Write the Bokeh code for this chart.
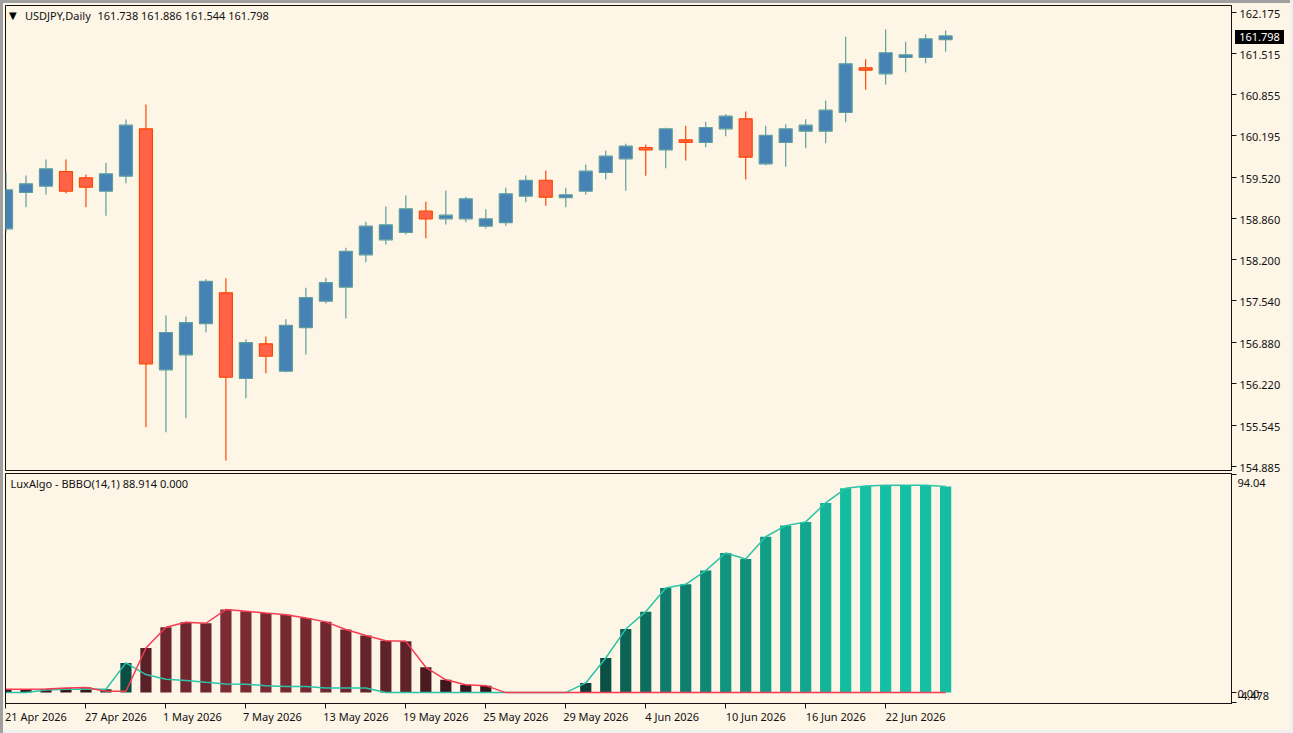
from bokeh.embed import file_html
from bokeh.layouts import column
from bokeh.models import ColumnDataSource, Div, FixedTicker, Label, LinearAxis, Range1d
from bokeh.plotting import figure
from bokeh.resources import INLINE

symbol_name = "USDJPY,Daily"
symbol_ohlc = "161.738 161.886 161.544 161.798"
indicator_text = "LuxAlgo - BBBO(14,1) 88.914 0.000"
last_price = 161.798

date_labels = ["21 Apr 2026", "27 Apr 2026", "1 May 2026", "7 May 2026", "13 May 2026", "19 May 2026",
               "25 May 2026", "29 May 2026", "4 Jun 2026", "10 Jun 2026", "16 Jun 2026", "22 Jun 2026"]
price_ticks = [162.175, 161.515, 160.855, 160.195, 159.520, 158.860, 158.200, 157.540, 156.880, 156.220, 155.545, 154.885]
indicator_ticks = [94.04, 0.0, -4.478]
indicator_tick_labels = ["94.04", "0.00", "-4.478"]

opens = [158.699, 159.283, 159.384, 159.620, 159.519, 159.303, 159.545, 160.306, 156.433, 156.674, 157.177, 157.671,
         156.294, 156.851, 156.411, 157.113, 157.536, 157.761, 158.281, 158.522, 158.640, 158.982, 158.860, 158.860,
         158.741, 158.800, 159.223, 159.480, 159.202, 159.303, 159.604, 159.824, 160.006, 159.969, 160.129, 160.086,
         160.306, 160.467, 159.744, 160.086, 160.268, 160.268, 160.568, 161.287, 161.190, 161.452, 161.452, 161.738]
highs = [159.620, 159.556, 159.813, 159.813, 159.572, 159.760, 160.456, 160.697, 157.306, 157.290, 157.889, 157.905,
         156.925, 156.968, 157.247, 157.751, 157.912, 158.394, 158.812, 159.058, 159.234, 159.133, 159.315, 159.213,
         159.014, 159.358, 159.556, 159.636, 159.358, 159.733, 159.957, 160.065, 160.054, 160.322, 160.354, 160.419,
         160.541, 160.584, 160.354, 160.380, 160.461, 160.761, 161.785, 161.425, 161.902, 161.704, 161.826, 161.886]
lows = [158.635, 159.046, 159.250, 159.271, 159.046, 158.908, 159.432, 155.511, 155.431, 155.656, 157.038, 154.976,
        155.977, 156.379, 156.395, 156.679, 157.499, 157.258, 158.163, 158.447, 158.608, 158.548, 158.768, 158.805,
        158.704, 158.747, 159.127, 159.069, 159.046, 159.250, 159.491, 159.310, 159.551, 159.673, 159.797, 160.011,
        160.187, 159.491, 159.721, 159.696, 159.994, 160.075, 160.412, 160.933, 161.018, 161.216, 161.360, 161.544]
closes = [159.326, 159.422, 159.663, 159.303, 159.368, 159.583, 160.364, 156.530, 157.033, 157.193, 157.857, 156.314,
          156.872, 156.652, 157.150, 157.595, 157.836, 158.339, 158.741, 158.763, 159.021, 158.860, 158.918, 159.181,
          158.860, 159.262, 159.480, 159.207, 159.246, 159.625, 159.866, 160.027, 159.969, 160.306, 160.086, 160.327,
          160.509, 159.850, 160.203, 160.306, 160.364, 160.605, 161.351, 161.248, 161.528, 161.495, 161.753, 161.798]
bull = [0.0, 0.0, 1.15, 1.44, 1.58, 1.44, 12.8, 7.76, 5.75, 5.17, 4.45, 3.74, 3.6, 3.0, 2.6, 2.6, 2.0, 2.0, 2.0, 0.0,
        0.0, 0.0, 0.0, 0.0, 0.0, 0.0, 0.0, 0.0, 0.0, 4.17, 14.9, 27.4, 34.9, 45.1, 46.7, 52.6, 60.2, 57.6, 67.2, 72.0,
        73.6, 81.8, 88.1, 89.1, 89.4, 89.4, 89.4, 88.914]
bear = [1.44, 1.44, 1.58, 2.0, 2.16, 0.57, 0.57, 19.25, 28.16, 30.3, 29.9, 35.8, 35.06, 34.3, 33.6, 32.2, 30.5, 27.2,
        24.6, 22.4, 22.1, 10.9, 5.5, 3.4, 3.0, 0.0, 0.0, 0.0, 0.0, 0.0, 0.0, 0.0, 0.0, 0.0, 0.0, 0.0, 0.0, 0.0, 0.0,
        0.0, 0.0, 0.0, 0.0, 0.0, 0.0, 0.0, 0.0, 0.0]

BG = "#FDF5E6"
INK = "#111111"
FONT = "Noto Sans"
PX = 20.0                                   # pixels per bar
idx = list(range(len(closes)))
date_ticks = idx[::4][:len(date_labels)]

x_range = Range1d(-0.5 / PX, 61.3)


def mix(a, b, t):
    t = max(0.0, min(1.0, t))
    return "#%02x%02x%02x" % tuple(round(p + (q - p) * t) for p, q in zip(a, b))


def note(fig, x, y, text, dx=0, dy=0):
    fig.add_layout(Label(x=x, y=y, text=text, x_offset=dx, y_offset=dy, text_font=FONT, text_font_size="11px",
                         text_baseline="middle", text_align="left", text_color=INK))


def tick_axis(ax, ticks):
    """Axis that draws only the tick marks."""
    ax.ticker = FixedTicker(ticks=ticks)
    ax.major_label_overrides = {t: "" for t in ticks}
    ax.major_tick_in = 0
    ax.major_tick_out = 5
    ax.minor_tick_out = 0
    ax.minor_tick_in = 0
    ax.axis_line_color = INK
    ax.major_tick_line_color = INK
    ax.major_label_standoff = 0


def label_axis(positions, texts, standoff):
    """Axis that draws only the tick labels, at label positions of their own."""
    return LinearAxis(ticker=FixedTicker(ticks=positions), major_label_overrides=dict(zip(positions, texts)),
                      major_tick_in=0, major_tick_out=0, minor_tick_in=0, minor_tick_out=0, axis_line_color=None,
                      major_tick_line_color=None, minor_tick_line_color=None, major_label_standoff=standoff,
                      major_label_text_font=FONT, major_label_text_font_size="11px", major_label_text_color=INK)


def base(height, y_range, top, bottom, **kw):
    fig = figure(width=1293, height=height, x_range=x_range, y_range=y_range, output_backend="svg",
                 toolbar_location=None, y_axis_location="right", background_fill_color=BG, border_fill_color=None,
                 min_border_left=5, min_border_right=62, min_border_top=top, min_border_bottom=bottom, **kw)
    fig.grid.visible = False
    fig.outline_line_color = INK
    fig.outline_line_width = 1
    return fig


# ---------- price panel
price = base(478, Range1d(154.816, 162.2875), 5, 8, x_axis_location=None)
tick_axis(price.yaxis[0], price_ticks)
shift = 1.5 / 62.23
price.add_layout(label_axis([t - shift for t in price_ticks], [f"{t:.3f}" for t in price_ticks], 3), "right")

UP_FILL, UP_LINE, DN_FILL, DN_LINE = "#4682B4", "#5F9EA0", "#FF6347", "#FF4500"
candles = ColumnDataSource(dict(
    x=idx, high=highs, low=lows, top=[max(o, c) for o, c in zip(opens, closes)],
    bottom=[min(o, c) for o, c in zip(opens, closes)],
    fill=[UP_FILL if c >= o else DN_FILL for o, c in zip(opens, closes)],
    line=[UP_LINE if c >= o else DN_LINE for o, c in zip(opens, closes)]))
price.segment("x", "high", "x", "low", source=candles, line_color="line", line_width=1.2)
price.vbar("x", top="top", bottom="bottom", width=0.65, source=candles, fill_color="fill", line_color="line",
           line_width=1.2)

price.add_layout(Label(x=x_range.start, y=price.y_range.end, text="\u25BC", x_offset=3.5, y_offset=-9.5,
                       text_font="DejaVu Sans", text_font_size="10px", text_baseline="middle", text_color="#000000"))
note(price, x_range.start, price.y_range.end, symbol_name, dx=19.5, dy=-10)
note(price, x_range.start, price.y_range.end, symbol_ohlc, dx=92, dy=-10)

# ---------- indicator panel
lower = base(263, Range1d(-4.7, 94.47), 3, 30)
lower.margin = (-8, 0, 0, 0)
tick_axis(lower.yaxis[0], indicator_ticks)
lab_vals = [90.5, -0.43, -1.6]
lower.add_layout(label_axis(lab_vals, indicator_tick_labels, 1), "right")
tick_axis(lower.xaxis[0], date_ticks)
label_widths = [62, 62, 55, 55, 62, 62, 62, 62, 55, 62, 62, 62]
centers = [t + (w / 2 - 1) / PX for t, w in zip(date_ticks, label_widths)]
lower.add_layout(label_axis(centers, date_labels, 0), "below")

hist = [max(b, s) for b, s in zip(bull, bear)]
GREEN_LO, GREEN_HI = (8, 58, 50), (20, 191, 163)
RED_LO, RED_HI = (50, 20, 25), (124, 42, 51)
hist_colors = [mix(GREEN_LO, GREEN_HI, b / max(bull)) if b > s else mix(RED_LO, RED_HI, s / max(bear))
               for b, s in zip(bull, bear)]
bars = ColumnDataSource(dict(x=idx, top=hist, color=hist_colors))
lower.vbar("x", top="top", bottom=0, width=0.56, source=bars, fill_color="color", line_color=None)
lower.line(idx, bull, line_color="#2BC4A8", line_width=1.5)
lower.line(idx, bear, line_color="#F93A50", line_width=1.5)

note(lower, x_range.start, lower.y_range.end, indicator_text, dx=5, dy=-10)

# ---------- current-price tag, laid over the price axis
tag = Div(text=f"{last_price:.3f}", width=49, height=14, margin=(-703, 0, 0, 1235),
          styles={"position": "relative", "z-index": "5", "background-color": "#000000", "color": "#FFFFFF",
                  "font-family": FONT, "font-size": "11px", "line-height": "14px", "text-align": "center"})


# ---------- window chrome
def strip(w, h, color, margin):
    return Div(text="", width=w, height=h, margin=margin,
               styles={"background-color": color, "position": "relative", "z-index": "6"})


chrome = [strip(1293, 3, "#A0A0A0", (-44, 0, 0, 0)),
          strip(3, 733, "#A0A0A0", (-3, 0, 0, 0)),
          strip(3, 733, "#F0F0F0", (-733, 0, 0, 1290)),
          strip(1287, 3, "#F0F0F0", (-3, 0, 0, 3))]

page = column(price, lower, tag, *chrome, spacing=0, styles={"background-color": BG})
open("out.html", "w").write(file_html(page, INLINE))
